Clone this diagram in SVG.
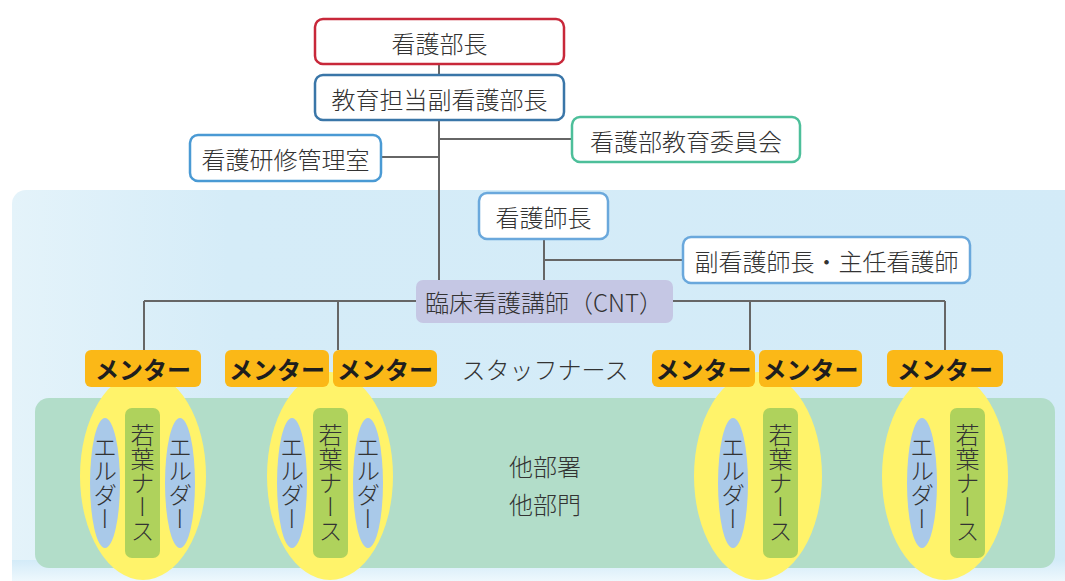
<svg xmlns="http://www.w3.org/2000/svg" width="1065" height="581" viewBox="0 0 1065 581">
<defs>
<linearGradient id="bg" x1="0" y1="0" x2="1" y2="0">
<stop offset="0" stop-color="#e4f3fa"/>
<stop offset="0.2" stop-color="#d5ecf8"/>
<stop offset="1" stop-color="#d3ebf8"/>
</linearGradient>
<linearGradient id="bot" x1="0" y1="0" x2="0" y2="1">
<stop offset="0" stop-color="#d3ebf8"/>
<stop offset="1" stop-color="#eef8fd"/>
</linearGradient>
<style>
.t{font-family:"Noto Sans CJK JP","Noto Sans",sans-serif;font-size:24px;font-weight:300;fill:#333;text-anchor:middle;dominant-baseline:central}
.m{font-family:"Noto Sans CJK JP","Noto Sans",sans-serif;font-size:24px;font-weight:bold;fill:#1e1e1e;text-anchor:middle;dominant-baseline:central}
.v{font-family:"Noto Sans CJK JP",sans-serif;font-size:24px;font-weight:300;fill:#333;writing-mode:vertical-rl;text-anchor:middle;dominant-baseline:central}
.box{fill:#fff;stroke-width:2.5}
.ln{stroke:#666;stroke-width:2;fill:none}
.mentor{fill:#fbb817}
.yel{fill:#fff36a}
.eld{fill:#a9c9e9}
.wak{fill:#afd25c}
</style>
</defs>
<rect width="1065" height="581" fill="#fff"/>
<rect x="12" y="190" width="1080" height="400" rx="14" fill="url(#bg)"/>
<rect x="12" y="560" width="1080" height="21" fill="url(#bot)"/>
<rect x="35" y="398" width="1020" height="170" rx="14" fill="#b2ddc9"/>
<g id="connectors">
<path class="ln" d="M439 64V290M439 139H572M381 157H439M544 239V280M544 260H683M144 301H945M144 301V350M338 301V350M750 301V350M945 301V350"/>
</g>
<g id="n-bucho"><rect class="box" x="315" y="19" width="249" height="45" rx="8" stroke="#c8283a"/><text class="t" x="439.5" y="42">看護部長</text></g>
<g id="n-fukubucho"><rect class="box" x="315" y="75" width="249" height="45" rx="8" stroke="#3a76a8"/><text class="t" x="439.5" y="98">教育担当副看護部長</text></g>
<g id="n-iinkai"><rect class="box" x="572" y="117" width="228" height="45" rx="8" stroke="#4dbf9a"/><text class="t" x="686" y="140">看護部教育委員会</text></g>
<g id="n-kenshu"><rect class="box" x="190" y="135" width="191" height="46" rx="8" stroke="#4a9ad4"/><text class="t" x="285.5" y="158">看護研修管理室</text></g>
<g id="n-shicho"><rect class="box" x="479" y="193" width="129" height="46" rx="8" stroke="#6aa8dc" stroke-width="2"/><text class="t" x="543.5" y="216">看護師長</text></g>
<g id="n-shunin"><rect class="box" x="683" y="237" width="287" height="46" rx="8" stroke="#6aa8dc" stroke-width="2"/><text class="t" x="826.5" y="260">副看護師長・主任看護師</text></g>
<g id="n-cnt"><rect x="416" y="280" width="257" height="43" rx="7" fill="#c5c7e4"/><text class="t" x="544" y="301">臨床看護講師（CNT）</text></g>
<g id="n-staff"><text class="t" x="545" y="368">スタッフナース</text></g>
<g id="n-tabu"><text class="t" x="545" y="465">他部署</text><text class="t" x="545" y="503">他部門</text></g>
<g id="group1">
<ellipse class="yel" cx="143" cy="476" rx="63" ry="104"/>
<ellipse class="eld" cx="105" cy="483" rx="15" ry="65"/>
<rect class="wak" x="125" y="408" width="35" height="150" rx="7"/>
<ellipse class="eld" cx="180" cy="483" rx="15" ry="65"/>
<text class="v" x="105" y="483">エルダー</text>
<text class="v" x="142.5" y="483">若葉ナース</text>
<text class="v" x="180" y="483">エルダー</text>
</g>
<g id="group2">
<ellipse class="yel" cx="330" cy="476" rx="63" ry="104"/>
<ellipse class="eld" cx="292" cy="483" rx="15" ry="65"/>
<rect class="wak" x="313" y="408" width="35" height="150" rx="7"/>
<ellipse class="eld" cx="368" cy="483" rx="15" ry="65"/>
<text class="v" x="292" y="483">エルダー</text>
<text class="v" x="330.5" y="483">若葉ナース</text>
<text class="v" x="368" y="483">エルダー</text>
</g>
<g id="group3">
<ellipse class="yel" cx="758" cy="476" rx="64" ry="104"/>
<ellipse class="eld" cx="733" cy="483" rx="15" ry="65"/>
<rect class="wak" x="763" y="408" width="35" height="150" rx="7"/>
<text class="v" x="733" y="483">エルダー</text>
<text class="v" x="780.5" y="483">若葉ナース</text>
</g>
<g id="group4">
<ellipse class="yel" cx="945" cy="476" rx="63" ry="104"/>
<ellipse class="eld" cx="922" cy="483" rx="15" ry="65"/>
<rect class="wak" x="950" y="408" width="35" height="150" rx="7"/>
<text class="v" x="922" y="483">エルダー</text>
<text class="v" x="967.5" y="483">若葉ナース</text>
</g>
<g id="mentor1"><rect class="mentor" x="85" y="350" width="116" height="37" rx="6"/><text class="m" x="143" y="368.5">メンター</text></g>
<g id="mentor2"><rect class="mentor" x="225" y="350" width="104" height="37" rx="6"/><text class="m" x="277" y="368.5">メンター</text></g>
<g id="mentor3"><rect class="mentor" x="333" y="350" width="104" height="37" rx="6"/><text class="m" x="385" y="368.5">メンター</text></g>
<g id="mentor4"><rect class="mentor" x="652" y="350" width="103" height="37" rx="6"/><text class="m" x="703.5" y="368.5">メンター</text></g>
<g id="mentor5"><rect class="mentor" x="759" y="350" width="103" height="37" rx="6"/><text class="m" x="810.5" y="368.5">メンター</text></g>
<g id="mentor6"><rect class="mentor" x="887" y="350" width="116" height="37" rx="6"/><text class="m" x="945" y="368.5">メンター</text></g>
</svg>
